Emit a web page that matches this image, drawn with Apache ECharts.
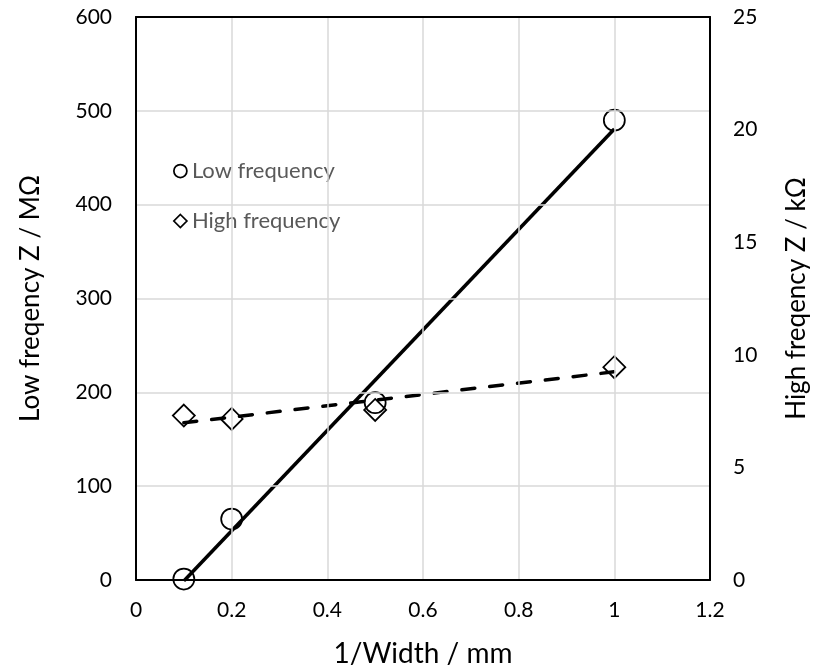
<!DOCTYPE html>
<html>
<head>
<meta charset="utf-8">
<script src="https://cdn.jsdelivr.net/npm/echarts@6/dist/echarts.min.js"></script>
<style>
  html, body { margin: 0; padding: 0; background: #fff; }
  #chart { width: 815px; height: 668px; }
</style>
</head>
<body>
<div id="chart"></div>
<script>
// 1/Width (mm^-1) for each sample
const inverseWidth = [0.1, 0.2, 0.5, 1.0];
// Low frequency impedance, MΩ
const lowFreqZ = [1, 65, 189, 490];
// High frequency impedance, kΩ
const highFreqZ = [7.3, 7.15, 7.55, 9.45];

const xTicks = { min: 0, max: 1.2, interval: 0.2 };
const leftTicks = { min: 0, max: 600, interval: 100 };
const rightTicks = { min: 0, max: 25, interval: 5 };

const FONT = 'Lato';
const frameLine = { show: true, onZero: false, lineStyle: { color: '#000', width: 2 } };
const gridLine = { show: true, lineStyle: { color: '#d9d9d9', width: 1.5 } };
const markerStyle = { color: 'rgba(255,255,255,0)', borderColor: '#000', borderWidth: 1.75, opacity: 1 };

// Least-squares linear fit, returned as the two end points over the x range
function linearFit(xs, ys) {
  const n = xs.length;
  const mx = xs.reduce((a, b) => a + b, 0) / n;
  const my = ys.reduce((a, b) => a + b, 0) / n;
  let sxy = 0, sxx = 0;
  for (let i = 0; i < n; i++) {
    sxy += (xs[i] - mx) * (ys[i] - my);
    sxx += (xs[i] - mx) * (xs[i] - mx);
  }
  const slope = sxy / sxx;
  const intercept = my - slope * mx;
  const x0 = Math.min(...xs), x1 = Math.max(...xs);
  return [[x0, intercept + slope * x0], [x1, intercept + slope * x1]];
}

const pairs = (xs, ys) => xs.map((x, i) => [x, ys[i]]);

const chart = echarts.init(document.getElementById('chart'));
chart.setOption({
  animation: false,
  backgroundColor: '#fff',
  textStyle: { fontFamily: FONT },
  grid: { left: 136, right: 105, top: 17, bottom: 88, containLabel: false, outerBoundsMode: 'none' },
  legend: {
    orient: 'vertical',
    left: 138, top: 147,
    padding: [11, 37, 14, 35],
    backgroundColor: '#fff',
    itemWidth: 13, itemHeight: 13,
    itemGap: 24,
    textStyle: { fontFamily: FONT, fontSize: 22, color: '#595959', lineHeight: 26 },
    data: [
      { name: 'Low frequency', icon: 'circle',
        itemStyle: { color: '#fff', borderColor: '#000', borderWidth: 1.75, opacity: 1 } },
      { name: 'High frequency', icon: 'diamond',
        itemStyle: { color: '#fff', borderColor: '#000', borderWidth: 1.75, opacity: 1 } }
    ]
  },
  xAxis: [
    {
      type: 'value', position: 'bottom',
      min: xTicks.min, max: xTicks.max, interval: xTicks.interval,
      name: '1/Width / mm',
      nameLocation: 'middle', nameGap: 60,
      nameTextStyle: { fontFamily: FONT, fontSize: 28, color: '#000' },
      axisLine: frameLine,
      axisTick: { show: false },
      axisLabel: { fontFamily: FONT, fontSize: 21, color: '#000', margin: 20 },
      splitLine: gridLine,
      z: 5
    },
    {
      // top edge of the plot frame
      type: 'value', position: 'top',
      min: xTicks.min, max: xTicks.max, interval: xTicks.interval,
      axisLine: frameLine,
      axisTick: { show: false },
      axisLabel: { show: false },
      splitLine: { show: false },
      z: 5
    }
  ],
  yAxis: [
    {
      type: 'value', position: 'left',
      min: leftTicks.min, max: leftTicks.max, interval: leftTicks.interval,
      name: 'Low freqency Z / MΩ',
      nameLocation: 'middle', nameGap: 92, nameRotate: 90,
      nameTextStyle: { fontFamily: FONT, fontSize: 26, color: '#000' },
      axisLine: frameLine,
      axisTick: { show: false },
      axisLabel: { fontFamily: FONT, fontSize: 21, color: '#000', margin: 24 },
      splitLine: gridLine,
      z: 5
    },
    {
      type: 'value', position: 'right',
      min: rightTicks.min, max: rightTicks.max, interval: rightTicks.interval,
      name: 'High freqency Z / kΩ',
      nameLocation: 'middle', nameGap: 74, nameRotate: 90,
      nameTextStyle: { fontFamily: FONT, fontSize: 26, color: '#000' },
      axisLine: frameLine,
      axisTick: { show: false },
      axisLabel: { fontFamily: FONT, fontSize: 21, color: '#000', margin: 23 },
      splitLine: { show: false },
      z: 5
    }
  ],
  series: [
    {
      name: 'Low frequency', type: 'scatter', yAxisIndex: 0,
      symbol: 'circle', symbolSize: 21,
      itemStyle: markerStyle,
      data: pairs(inverseWidth, lowFreqZ), z: 3
    },
    {
      name: 'High frequency', type: 'scatter', yAxisIndex: 1,
      symbol: 'diamond', symbolSize: 22,
      itemStyle: markerStyle,
      data: pairs(inverseWidth, highFreqZ), z: 3
    },
    {
      name: 'Low frequency fit', type: 'line', yAxisIndex: 0,
      showSymbol: false, symbol: 'none',
      lineStyle: { color: '#000', width: 3.5 },
      data: linearFit(inverseWidth, lowFreqZ), z: 4
    },
    {
      name: 'High frequency fit', type: 'line', yAxisIndex: 1,
      showSymbol: false, symbol: 'none',
      lineStyle: { color: '#000', width: 3.5, type: [13, 15], cap: 'round' },
      data: linearFit(inverseWidth, highFreqZ), z: 4
    }
  ]
});
</script>
</body>
</html>
